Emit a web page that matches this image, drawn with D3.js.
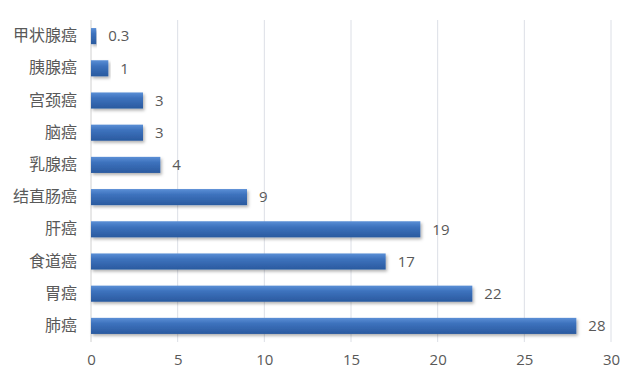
<!DOCTYPE html>
<html><head><meta charset="utf-8">
<script src="https://cdn.jsdelivr.net/npm/d3@7"></script>
<style>body{margin:0;background:#fff;}svg{display:block;}text{font-family:"Noto Sans CJK SC","Open Sans",sans-serif;fill:#595959;}</style>
</head><body>
<svg id="c" width="640" height="384"></svg>
<script>
const categories = ["甲状腺癌","胰腺癌","宫颈癌","脑癌","乳腺癌","结直肠癌","肝癌","食道癌","胃癌","肺癌"];
const values = [0.3,1,3,3,4,9,19,17,22,28];
const xTicks = [0,5,10,15,20,25,30];

const svg = d3.select("#c");
const m = {l:91, r:29, t:20, b:42};
const W = 640, H = 384;
const x = d3.scaleLinear().domain([0,30]).range([m.l, W-m.r]);
const y = d3.scaleBand().domain(categories).range([m.t, H-m.b]).paddingInner(0.5).paddingOuter(0.25);

const defs = svg.append("defs");
const g = defs.append("linearGradient").attr("id","bg").attr("x1",0).attr("y1",0).attr("x2",0).attr("y2",1);
g.append("stop").attr("offset","0%").attr("stop-color","#5b8fd6");
g.append("stop").attr("offset","35%").attr("stop-color","#3d72bd");
g.append("stop").attr("offset","100%").attr("stop-color","#2a5a9f");
const f = defs.append("filter").attr("id","sh").attr("x","-5%").attr("y","-30%").attr("width","115%").attr("height","180%");
f.append("feDropShadow").attr("dx",1.5).attr("dy",2).attr("stdDeviation",1.5).attr("flood-color","#000").attr("flood-opacity",0.3);

// gridlines
svg.append("g").selectAll("line").data(xTicks.filter(d=>d>0)).join("line")
  .attr("x1",d=>x(d)).attr("x2",d=>x(d)).attr("y1",m.t).attr("y2",H-m.b)
  .attr("stroke","#dcdfe6").attr("stroke-width",1);
// axis line
svg.append("line").attr("x1",x(0)).attr("x2",x(0)).attr("y1",m.t).attr("y2",H-m.b).attr("stroke","#d0d0d0");

// bars
svg.append("g").selectAll("rect").data(values).join("rect")
  .attr("x",x(0)).attr("y",(d,i)=>y(categories[i]))
  .attr("width",d=>x(d)-x(0)).attr("height",y.bandwidth())
  .attr("fill","url(#bg)").attr("filter","url(#sh)");

// value labels
svg.append("g").selectAll("text").data(values).join("text")
  .attr("x",d=>x(d)+12).attr("y",(d,i)=>y(categories[i])+y.bandwidth()/2)
  .attr("dy","0.35em").attr("font-size",15).attr("fill","#4a4f58").style("font-family",'"Open Sans",sans-serif').text(d=>d);

// category labels via axis
const ay = svg.append("g").attr("transform",`translate(${x(0)-8},0)`).call(d3.axisLeft(y).tickSize(0).tickPadding(6));
ay.select(".domain").remove();
ay.selectAll("text").attr("font-size",16).attr("fill","#4a4f58").style("font-family",'"Noto Sans CJK SC",sans-serif');

// x axis
const ax = svg.append("g").attr("transform",`translate(0,${H-m.b})`).call(d3.axisBottom(x).tickValues(xTicks).tickSize(0).tickPadding(12));
ax.select(".domain").remove();
ax.selectAll("text").attr("font-size",15).attr("fill","#4a4f58").style("font-family",'"Open Sans",sans-serif');
</script>
</body></html>
